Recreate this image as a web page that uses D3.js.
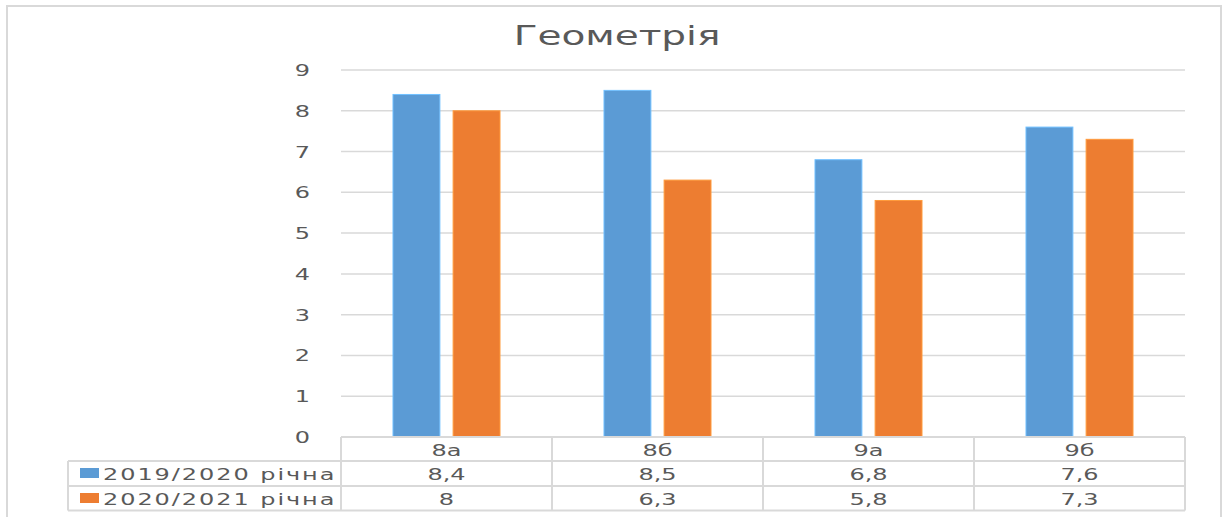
<!DOCTYPE html>
<html>
<head>
<meta charset="utf-8">
<script src="https://cdn.jsdelivr.net/npm/d3@7/dist/d3.min.js"></script>
<style>
  html, body { margin: 0; padding: 0; background: #fff; }
  svg { display: block; }
</style>
</head>
<body>
<div id="chart"></div>
<script>
/* Геометрія — grouped bars with a data table under the axis */
var title = "Геометрія";
var classes = ["8а", "8б", "9а", "9б"];
var seriesNames = ["2019/2020 річна", "2020/2021 річна"];
var values2019 = [8.4, 8.5, 6.8, 7.6];
var values2020 = [8, 6.3, 5.8, 7.3];
var yTicks = [0, 1, 2, 3, 4, 5, 6, 7, 8, 9];
var colors = ["#5B9BD5", "#ED7D31"];

(function () {
  var W = 1227, H = 517;
  var m = { t: 70, r: 42, b: 80, l: 341 };   // plot box 341..1185 x 70..437
  var SX = 1.5;                              // the picture is stretched sideways
  var font = "DejaVu Sans", ink = "#595959", line = "#d9d9d9";

  var svg = d3.select("#chart").append("svg").attr("width", W).attr("height", H);

  // outer chart frame
  svg.append("rect").attr("x", 7).attr("y", 6).attr("width", 1214).attr("height", 530)
    .attr("fill", "#fff").attr("stroke", line).attr("stroke-width", 2);

  // text with the sideways stretch, pinned at its anchor point
  function txt(x, y, s, size, anchor) {
    return svg.append("text")
      .attr("transform", "translate(" + x + "," + y + ") scale(" + SX + ",1)")
      .attr("text-anchor", anchor || "middle")
      .attr("font-family", font).attr("font-size", size).attr("fill", ink)
      .text(s);
  }

  txt(617, 45, title, 26);

  var x = d3.scaleBand().domain(classes).range([m.l, W - m.r]);
  var x1 = d3.scaleBand().domain(seriesNames).range([0, 107]).paddingInner(0.22);
  var y = d3.scaleLinear().domain([0, 9]).range([H - m.b, m.t]);

  // gridlines + y labels
  yTicks.forEach(function (t) {
    svg.append("line").attr("x1", m.l).attr("x2", W - m.r).attr("y1", y(t)).attr("y2", y(t))
      .attr("stroke", line).attr("stroke-width", 1.5);
    txt(310, y(t) + 6, d3.format("d")(t), 16, "end");
  });

  // bars
  var series = [values2019, values2020];
  series.forEach(function (vals, si) {
    svg.append("g").selectAll("rect").data(vals).join("rect")
      .attr("x", function (d, i) { return x(classes[i]) + (x.bandwidth() - 107) / 2 + x1(seriesNames[si]); })
      .attr("width", x1.bandwidth())
      .attr("y", function (d) { return y(d); })
      .attr("height", function (d) { return y(0) - y(d); })
      .attr("fill", colors[si])
      .attr("stroke", d3.color(colors[si]).brighter(0.6)).attr("stroke-width", 1);
  });

  // data table
  var rowTop = [437, 461, 486], rowH = 24.5, legL = 68;
  var tbl = svg.append("g").attr("fill", "none").attr("stroke", line).attr("stroke-width", 2);
  tbl.append("line").attr("x1", m.l).attr("x2", W - m.r).attr("y1", rowTop[0]).attr("y2", rowTop[0]);
  [rowTop[1], rowTop[2], rowTop[2] + rowH].forEach(function (yy) {
    tbl.append("line").attr("x1", legL).attr("x2", W - m.r).attr("y1", yy).attr("y2", yy);
  });
  tbl.append("line").attr("x1", legL).attr("x2", legL).attr("y1", rowTop[1]).attr("y2", rowTop[2] + rowH);
  classes.concat([null]).forEach(function (c) {
    var xx = c ? x(c) : W - m.r;
    tbl.append("line").attr("x1", xx).attr("x2", xx).attr("y1", rowTop[0]).attr("y2", rowTop[2] + rowH);
  });

  classes.forEach(function (c) {
    var cx = x(c) + x.bandwidth() / 2;
    txt(cx, rowTop[0] + 19, c, 16);
    series.forEach(function (vals, si) {
      txt(cx, rowTop[si + 1] + 19, d3.format(",")(vals[classes.indexOf(c)]).replace(".", ","), 16);
    });
  });

  seriesNames.forEach(function (s, si) {
    svg.append("rect").attr("x", 80).attr("y", rowTop[si + 1] + 7).attr("width", 19).attr("height", 10)
      .attr("fill", colors[si]);
    txt(103, rowTop[si + 1] + 19, s, 16, "start").attr("letter-spacing", 1.3);
  });
})();
</script>
</body>
</html>
